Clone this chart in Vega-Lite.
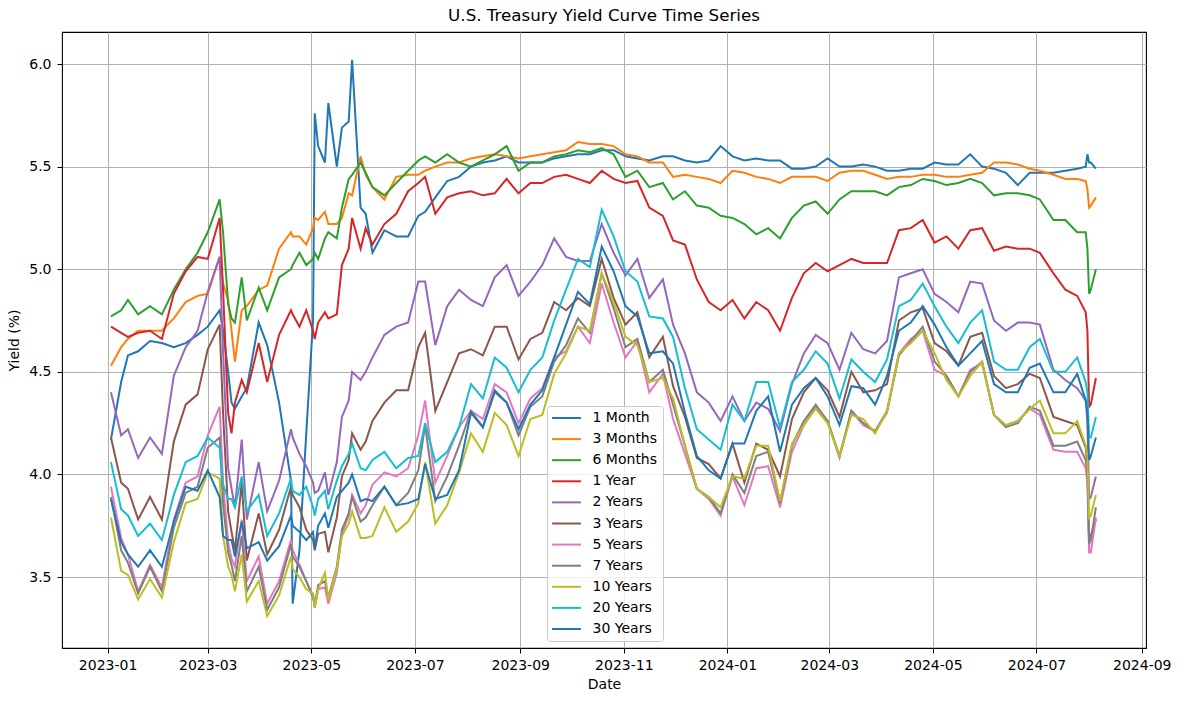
{
"$schema":"https://vega.github.io/schema/vega-lite/v6.json",
"width":1084,"height":616,
"autosize":{"type":"none"},
"padding":{"left":62,"top":32,"right":33,"bottom":53},
"background":"white",
"title":{"text":"U.S. Treasury Yield Curve Time Series","font":"DejaVu Sans","fontSize":16.7,"fontWeight":"normal","color":"#000000","offset":7},
"config":{"font":"DejaVu Sans","view":{"stroke":"#000000","strokeWidth":1.1},
"axis":{"domain":false,"grid":true,"gridColor":"#b0b0b0","gridWidth":1,"tickColor":"#000000","tickSize":5,"tickWidth":1,"labelFont":"DejaVu Sans","labelFontSize":14,"labelColor":"#000000","titleFont":"DejaVu Sans","titleFontSize":14,"titleFontWeight":"normal","titleColor":"#000000","labelOverlap":false}},
"data":{"values":[
{"date":"2023-01-03","1 Month":4.17,"3 Months":4.53,"6 Months":4.77,"1 Year":4.72,"2 Years":4.40,"3 Years":4.18,"5 Years":3.94,"7 Years":3.89,"10 Years":3.79,"20 Years":4.06,"30 Years":3.88},
{"date":"2023-01-09","1 Month":4.45,"3 Months":4.62,"6 Months":4.80,"1 Year":4.69,"2 Years":4.19,"3 Years":3.96,"5 Years":3.69,"7 Years":3.63,"10 Years":3.53,"20 Years":3.83,"30 Years":3.67},
{"date":"2023-01-13","1 Month":4.58,"3 Months":4.66,"6 Months":4.85,"1 Year":4.67,"2 Years":4.22,"3 Years":3.93,"5 Years":3.61,"7 Years":3.57,"10 Years":3.51,"20 Years":3.80,"30 Years":3.61},
{"date":"2023-01-19","1 Month":4.60,"3 Months":4.70,"6 Months":4.78,"1 Year":4.69,"2 Years":4.08,"3 Years":3.78,"5 Years":3.43,"7 Years":3.42,"10 Years":3.39,"20 Years":3.70,"30 Years":3.55},
{"date":"2023-01-26","1 Month":4.65,"3 Months":4.70,"6 Months":4.82,"1 Year":4.70,"2 Years":4.18,"3 Years":3.89,"5 Years":3.56,"7 Years":3.55,"10 Years":3.49,"20 Years":3.76,"30 Years":3.63},
{"date":"2023-02-02","1 Month":4.64,"3 Months":4.70,"6 Months":4.78,"1 Year":4.66,"2 Years":4.10,"3 Years":3.78,"5 Years":3.45,"7 Years":3.43,"10 Years":3.40,"20 Years":3.68,"30 Years":3.55},
{"date":"2023-02-09","1 Month":4.62,"3 Months":4.76,"6 Months":4.90,"1 Year":4.88,"2 Years":4.48,"3 Years":4.16,"5 Years":3.78,"7 Years":3.74,"10 Years":3.67,"20 Years":3.90,"30 Years":3.77},
{"date":"2023-02-16","1 Month":4.64,"3 Months":4.84,"6 Months":5.00,"1 Year":4.99,"2 Years":4.62,"3 Years":4.34,"5 Years":3.96,"7 Years":3.91,"10 Years":3.86,"20 Years":4.06,"30 Years":3.94},
{"date":"2023-02-23","1 Month":4.68,"3 Months":4.87,"6 Months":5.08,"1 Year":5.06,"2 Years":4.70,"3 Years":4.39,"5 Years":3.99,"7 Years":3.94,"10 Years":3.88,"20 Years":4.09,"30 Years":3.92},
{"date":"2023-03-01","1 Month":4.72,"3 Months":4.88,"6 Months":5.18,"1 Year":5.05,"2 Years":4.89,"3 Years":4.61,"5 Years":4.19,"7 Years":4.13,"10 Years":4.01,"20 Years":4.18,"30 Years":4.02},
{"date":"2023-03-08","1 Month":4.80,"3 Months":5.06,"6 Months":5.34,"1 Year":5.25,"2 Years":5.06,"3 Years":4.73,"5 Years":4.33,"7 Years":4.18,"10 Years":3.98,"20 Years":4.13,"30 Years":3.89},
{"date":"2023-03-10","1 Month":4.70,"3 Months":4.93,"6 Months":5.18,"1 Year":4.90,"2 Years":4.60,"3 Years":4.30,"5 Years":3.96,"7 Years":3.86,"10 Years":3.70,"20 Years":3.95,"30 Years":3.70},
{"date":"2023-03-13","1 Month":4.50,"3 Months":4.85,"6 Months":4.83,"1 Year":4.30,"2 Years":4.03,"3 Years":3.82,"5 Years":3.67,"7 Years":3.62,"10 Years":3.55,"20 Years":3.88,"30 Years":3.68},
{"date":"2023-03-15","1 Month":4.35,"3 Months":4.70,"6 Months":4.76,"1 Year":4.20,"2 Years":3.93,"3 Years":3.72,"5 Years":3.59,"7 Years":3.56,"10 Years":3.51,"20 Years":3.88,"30 Years":3.68},
{"date":"2023-03-17","1 Month":4.32,"3 Months":4.55,"6 Months":4.74,"1 Year":4.35,"2 Years":3.84,"3 Years":3.63,"5 Years":3.55,"7 Years":3.48,"10 Years":3.43,"20 Years":3.84,"30 Years":3.60},
{"date":"2023-03-21","1 Month":4.38,"3 Months":4.80,"6 Months":4.96,"1 Year":4.46,"2 Years":4.17,"3 Years":3.96,"5 Years":3.78,"7 Years":3.70,"10 Years":3.61,"20 Years":3.99,"30 Years":3.77},
{"date":"2023-03-24","1 Month":4.42,"3 Months":4.82,"6 Months":4.75,"1 Year":4.40,"2 Years":3.78,"3 Years":3.58,"5 Years":3.48,"7 Years":3.43,"10 Years":3.38,"20 Years":3.82,"30 Years":3.64},
{"date":"2023-03-31","1 Month":4.74,"3 Months":4.90,"6 Months":4.91,"1 Year":4.64,"2 Years":4.06,"3 Years":3.81,"5 Years":3.60,"7 Years":3.55,"10 Years":3.48,"20 Years":3.90,"30 Years":3.67},
{"date":"2023-04-05","1 Month":4.63,"3 Months":4.92,"6 Months":4.80,"1 Year":4.45,"2 Years":3.82,"3 Years":3.61,"5 Years":3.37,"7 Years":3.34,"10 Years":3.31,"20 Years":3.70,"30 Years":3.58},
{"date":"2023-04-12","1 Month":4.35,"3 Months":5.10,"6 Months":4.96,"1 Year":4.68,"2 Years":3.97,"3 Years":3.73,"5 Years":3.48,"7 Years":3.45,"10 Years":3.41,"20 Years":3.81,"30 Years":3.65},
{"date":"2023-04-19","1 Month":3.97,"3 Months":5.18,"6 Months":5.00,"1 Year":4.80,"2 Years":4.22,"3 Years":3.94,"5 Years":3.68,"7 Years":3.66,"10 Years":3.60,"20 Years":3.98,"30 Years":3.80},
{"date":"2023-04-20","1 Month":3.37,"3 Months":5.16,"6 Months":5.02,"1 Year":4.78,"2 Years":4.18,"3 Years":3.90,"5 Years":3.63,"7 Years":3.60,"10 Years":3.54,"20 Years":3.92,"30 Years":3.75},
{"date":"2023-04-24","1 Month":3.63,"3 Months":5.16,"6 Months":5.08,"1 Year":4.72,"2 Years":4.10,"3 Years":3.84,"5 Years":3.56,"7 Years":3.55,"10 Years":3.50,"20 Years":3.90,"30 Years":3.72},
{"date":"2023-04-28","1 Month":4.20,"3 Months":5.12,"6 Months":5.02,"1 Year":4.80,"2 Years":4.04,"3 Years":3.73,"5 Years":3.48,"7 Years":3.48,"10 Years":3.44,"20 Years":3.94,"30 Years":3.68},
{"date":"2023-05-02","1 Month":4.75,"3 Months":5.20,"6 Months":5.05,"1 Year":4.70,"2 Years":3.96,"3 Years":3.68,"5 Years":3.41,"7 Years":3.40,"10 Years":3.42,"20 Years":3.84,"30 Years":3.72},
{"date":"2023-05-03","1 Month":5.76,"3 Months":5.25,"6 Months":5.08,"1 Year":4.66,"2 Years":3.91,"3 Years":3.63,"5 Years":3.35,"7 Years":3.36,"10 Years":3.35,"20 Years":3.80,"30 Years":3.64},
{"date":"2023-05-05","1 Month":5.60,"3 Months":5.24,"6 Months":5.05,"1 Year":4.74,"2 Years":3.92,"3 Years":3.71,"5 Years":3.44,"7 Years":3.46,"10 Years":3.44,"20 Years":3.88,"30 Years":3.75},
{"date":"2023-05-09","1 Month":5.52,"3 Months":5.28,"6 Months":5.15,"1 Year":4.79,"2 Years":4.01,"3 Years":3.72,"5 Years":3.45,"7 Years":3.48,"10 Years":3.52,"20 Years":3.92,"30 Years":3.81},
{"date":"2023-05-11","1 Month":5.81,"3 Months":5.22,"6 Months":5.18,"1 Year":4.76,"2 Years":3.90,"3 Years":3.62,"5 Years":3.37,"7 Years":3.40,"10 Years":3.39,"20 Years":3.83,"30 Years":3.74},
{"date":"2023-05-16","1 Month":5.50,"3 Months":5.22,"6 Months":5.15,"1 Year":4.78,"2 Years":4.06,"3 Years":3.79,"5 Years":3.52,"7 Years":3.55,"10 Years":3.54,"20 Years":3.97,"30 Years":3.89},
{"date":"2023-05-19","1 Month":5.69,"3 Months":5.25,"6 Months":5.30,"1 Year":5.02,"2 Years":4.28,"3 Years":3.99,"5 Years":3.71,"7 Years":3.73,"10 Years":3.70,"20 Years":4.04,"30 Years":3.92},
{"date":"2023-05-23","1 Month":5.72,"3 Months":5.37,"6 Months":5.44,"1 Year":5.10,"2 Years":4.36,"3 Years":4.07,"5 Years":3.80,"7 Years":3.81,"10 Years":3.76,"20 Years":4.10,"30 Years":3.96},
{"date":"2023-05-25","1 Month":6.02,"3 Months":5.36,"6 Months":5.46,"1 Year":5.25,"2 Years":4.50,"3 Years":4.20,"5 Years":3.90,"7 Years":3.89,"10 Years":3.82,"20 Years":4.15,"30 Years":4.00},
{"date":"2023-05-30","1 Month":5.30,"3 Months":5.55,"6 Months":5.52,"1 Year":5.10,"2 Years":4.46,"3 Years":4.12,"5 Years":3.81,"7 Years":3.77,"10 Years":3.69,"20 Years":4.03,"30 Years":3.87},
{"date":"2023-06-02","1 Month":5.27,"3 Months":5.46,"6 Months":5.47,"1 Year":5.20,"2 Years":4.50,"3 Years":4.16,"5 Years":3.85,"7 Years":3.79,"10 Years":3.69,"20 Years":4.02,"30 Years":3.88},
{"date":"2023-06-06","1 Month":5.08,"3 Months":5.40,"6 Months":5.40,"1 Year":5.12,"2 Years":4.57,"3 Years":4.26,"5 Years":3.95,"7 Years":3.85,"10 Years":3.70,"20 Years":4.07,"30 Years":3.87},
{"date":"2023-06-13","1 Month":5.19,"3 Months":5.34,"6 Months":5.36,"1 Year":5.22,"2 Years":4.68,"3 Years":4.35,"5 Years":4.01,"7 Years":3.94,"10 Years":3.84,"20 Years":4.11,"30 Years":3.94},
{"date":"2023-06-20","1 Month":5.16,"3 Months":5.45,"6 Months":5.42,"1 Year":5.27,"2 Years":4.72,"3 Years":4.41,"5 Years":3.99,"7 Years":3.85,"10 Years":3.72,"20 Years":4.03,"30 Years":3.85},
{"date":"2023-06-27","1 Month":5.16,"3 Months":5.46,"6 Months":5.48,"1 Year":5.38,"2 Years":4.74,"3 Years":4.41,"5 Years":4.03,"7 Years":3.91,"10 Years":3.77,"20 Years":4.08,"30 Years":3.86},
{"date":"2023-07-03","1 Month":5.26,"3 Months":5.46,"6 Months":5.53,"1 Year":5.42,"2 Years":4.94,"3 Years":4.62,"5 Years":4.19,"7 Years":4.02,"10 Years":3.86,"20 Years":4.09,"30 Years":3.88},
{"date":"2023-07-07","1 Month":5.28,"3 Months":5.48,"6 Months":5.55,"1 Year":5.45,"2 Years":4.94,"3 Years":4.69,"5 Years":4.36,"7 Years":4.24,"10 Years":4.06,"20 Years":4.25,"30 Years":4.05},
{"date":"2023-07-13","1 Month":5.35,"3 Months":5.50,"6 Months":5.52,"1 Year":5.27,"2 Years":4.63,"3 Years":4.31,"5 Years":3.96,"7 Years":3.87,"10 Years":3.76,"20 Years":4.06,"30 Years":3.88},
{"date":"2023-07-20","1 Month":5.43,"3 Months":5.52,"6 Months":5.56,"1 Year":5.35,"2 Years":4.82,"3 Years":4.45,"5 Years":4.09,"7 Years":3.99,"10 Years":3.85,"20 Years":4.11,"30 Years":3.90},
{"date":"2023-07-27","1 Month":5.45,"3 Months":5.52,"6 Months":5.52,"1 Year":5.37,"2 Years":4.90,"3 Years":4.59,"5 Years":4.23,"7 Years":4.14,"10 Years":4.01,"20 Years":4.23,"30 Years":4.02},
{"date":"2023-08-03","1 Month":5.50,"3 Months":5.54,"6 Months":5.50,"1 Year":5.38,"2 Years":4.85,"3 Years":4.61,"5 Years":4.31,"7 Years":4.31,"10 Years":4.20,"20 Years":4.44,"30 Years":4.30},
{"date":"2023-08-10","1 Month":5.52,"3 Months":5.55,"6 Months":5.53,"1 Year":5.36,"2 Years":4.82,"3 Years":4.58,"5 Years":4.27,"7 Years":4.23,"10 Years":4.11,"20 Years":4.37,"30 Years":4.23},
{"date":"2023-08-17","1 Month":5.53,"3 Months":5.56,"6 Months":5.56,"1 Year":5.37,"2 Years":4.96,"3 Years":4.72,"5 Years":4.44,"7 Years":4.40,"10 Years":4.30,"20 Years":4.57,"30 Years":4.41},
{"date":"2023-08-24","1 Month":5.55,"3 Months":5.55,"6 Months":5.60,"1 Year":5.44,"2 Years":5.02,"3 Years":4.72,"5 Years":4.40,"7 Years":4.35,"10 Years":4.24,"20 Years":4.52,"30 Years":4.35},
{"date":"2023-08-31","1 Month":5.52,"3 Months":5.54,"6 Months":5.48,"1 Year":5.37,"2 Years":4.87,"3 Years":4.56,"5 Years":4.25,"7 Years":4.19,"10 Years":4.09,"20 Years":4.40,"30 Years":4.22},
{"date":"2023-09-07","1 Month":5.52,"3 Months":5.55,"6 Months":5.52,"1 Year":5.42,"2 Years":4.94,"3 Years":4.66,"5 Years":4.37,"7 Years":4.33,"10 Years":4.27,"20 Years":4.51,"30 Years":4.34},
{"date":"2023-09-14","1 Month":5.52,"3 Months":5.56,"6 Months":5.52,"1 Year":5.42,"2 Years":5.02,"3 Years":4.69,"5 Years":4.42,"7 Years":4.38,"10 Years":4.29,"20 Years":4.57,"30 Years":4.41},
{"date":"2023-09-21","1 Month":5.54,"3 Months":5.57,"6 Months":5.55,"1 Year":5.45,"2 Years":5.15,"3 Years":4.84,"5 Years":4.57,"7 Years":4.55,"10 Years":4.49,"20 Years":4.75,"30 Years":4.57},
{"date":"2023-09-28","1 Month":5.55,"3 Months":5.58,"6 Months":5.56,"1 Year":5.46,"2 Years":5.06,"3 Years":4.80,"5 Years":4.60,"7 Years":4.63,"10 Years":4.59,"20 Years":4.90,"30 Years":4.73},
{"date":"2023-10-05","1 Month":5.56,"3 Months":5.62,"6 Months":5.58,"1 Year":5.44,"2 Years":5.04,"3 Years":4.86,"5 Years":4.72,"7 Years":4.76,"10 Years":4.72,"20 Years":5.05,"30 Years":4.89},
{"date":"2023-10-12","1 Month":5.56,"3 Months":5.61,"6 Months":5.57,"1 Year":5.42,"2 Years":5.04,"3 Years":4.82,"5 Years":4.64,"7 Years":4.69,"10 Years":4.70,"20 Years":5.01,"30 Years":4.83},
{"date":"2023-10-19","1 Month":5.58,"3 Months":5.61,"6 Months":5.59,"1 Year":5.48,"2 Years":5.22,"3 Years":5.05,"5 Years":4.93,"7 Years":4.98,"10 Years":4.98,"20 Years":5.29,"30 Years":5.11},
{"date":"2023-10-26","1 Month":5.58,"3 Months":5.60,"6 Months":5.56,"1 Year":5.44,"2 Years":5.08,"3 Years":4.86,"5 Years":4.74,"7 Years":4.81,"10 Years":4.84,"20 Years":5.16,"30 Years":4.99},
{"date":"2023-11-02","1 Month":5.55,"3 Months":5.56,"6 Months":5.45,"1 Year":5.42,"2 Years":4.97,"3 Years":4.73,"5 Years":4.57,"7 Years":4.62,"10 Years":4.67,"20 Years":4.99,"30 Years":4.82},
{"date":"2023-11-09","1 Month":5.54,"3 Months":5.55,"6 Months":5.48,"1 Year":5.43,"2 Years":5.05,"3 Years":4.79,"5 Years":4.65,"7 Years":4.66,"10 Years":4.63,"20 Years":4.94,"30 Years":4.77},
{"date":"2023-11-16","1 Month":5.53,"3 Months":5.52,"6 Months":5.40,"1 Year":5.30,"2 Years":4.86,"3 Years":4.57,"5 Years":4.40,"7 Years":4.45,"10 Years":4.45,"20 Years":4.77,"30 Years":4.59},
{"date":"2023-11-24","1 Month":5.55,"3 Months":5.52,"6 Months":5.42,"1 Year":5.26,"2 Years":4.95,"3 Years":4.67,"5 Years":4.49,"7 Years":4.51,"10 Years":4.47,"20 Years":4.76,"30 Years":4.60},
{"date":"2023-11-30","1 Month":5.55,"3 Months":5.45,"6 Months":5.34,"1 Year":5.14,"2 Years":4.73,"3 Years":4.43,"5 Years":4.27,"7 Years":4.34,"10 Years":4.37,"20 Years":4.67,"30 Years":4.54},
{"date":"2023-12-07","1 Month":5.53,"3 Months":5.46,"6 Months":5.38,"1 Year":5.12,"2 Years":4.59,"3 Years":4.28,"5 Years":4.10,"7 Years":4.14,"10 Years":4.14,"20 Years":4.42,"30 Years":4.30},
{"date":"2023-12-14","1 Month":5.52,"3 Months":5.45,"6 Months":5.31,"1 Year":4.95,"2 Years":4.40,"3 Years":4.08,"5 Years":3.93,"7 Years":3.93,"10 Years":3.93,"20 Years":4.22,"30 Years":4.09},
{"date":"2023-12-21","1 Month":5.53,"3 Months":5.44,"6 Months":5.30,"1 Year":4.84,"2 Years":4.35,"3 Years":4.05,"5 Years":3.88,"7 Years":3.89,"10 Years":3.89,"20 Years":4.17,"30 Years":4.02},
{"date":"2023-12-28","1 Month":5.60,"3 Months":5.42,"6 Months":5.26,"1 Year":4.80,"2 Years":4.26,"3 Years":3.98,"5 Years":3.80,"7 Years":3.81,"10 Years":3.84,"20 Years":4.12,"30 Years":3.98},
{"date":"2024-01-04","1 Month":5.55,"3 Months":5.48,"6 Months":5.25,"1 Year":4.85,"2 Years":4.38,"3 Years":4.15,"5 Years":3.99,"7 Years":4.00,"10 Years":3.99,"20 Years":4.34,"30 Years":4.15},
{"date":"2024-01-11","1 Month":5.53,"3 Months":5.47,"6 Months":5.22,"1 Year":4.76,"2 Years":4.26,"3 Years":3.96,"5 Years":3.85,"7 Years":3.91,"10 Years":3.98,"20 Years":4.26,"30 Years":4.15},
{"date":"2024-01-18","1 Month":5.54,"3 Months":5.45,"6 Months":5.17,"1 Year":4.84,"2 Years":4.35,"3 Years":4.15,"5 Years":4.03,"7 Years":4.09,"10 Years":4.14,"20 Years":4.45,"30 Years":4.31},
{"date":"2024-01-25","1 Month":5.53,"3 Months":5.44,"6 Months":5.20,"1 Year":4.80,"2 Years":4.32,"3 Years":4.12,"5 Years":4.04,"7 Years":4.11,"10 Years":4.14,"20 Years":4.45,"30 Years":4.38},
{"date":"2024-02-01","1 Month":5.53,"3 Months":5.42,"6 Months":5.15,"1 Year":4.70,"2 Years":4.21,"3 Years":3.99,"5 Years":3.84,"7 Years":3.86,"10 Years":3.87,"20 Years":4.23,"30 Years":4.11},
{"date":"2024-02-08","1 Month":5.49,"3 Months":5.45,"6 Months":5.25,"1 Year":4.86,"2 Years":4.44,"3 Years":4.27,"5 Years":4.11,"7 Years":4.14,"10 Years":4.15,"20 Years":4.45,"30 Years":4.34},
{"date":"2024-02-15","1 Month":5.49,"3 Months":5.45,"6 Months":5.31,"1 Year":4.98,"2 Years":4.59,"3 Years":4.40,"5 Years":4.24,"7 Years":4.26,"10 Years":4.24,"20 Years":4.51,"30 Years":4.42},
{"date":"2024-02-22","1 Month":5.50,"3 Months":5.45,"6 Months":5.33,"1 Year":5.03,"2 Years":4.68,"3 Years":4.47,"5 Years":4.33,"7 Years":4.34,"10 Years":4.32,"20 Years":4.60,"30 Years":4.47},
{"date":"2024-02-29","1 Month":5.54,"3 Months":5.43,"6 Months":5.27,"1 Year":4.99,"2 Years":4.64,"3 Years":4.41,"5 Years":4.26,"7 Years":4.26,"10 Years":4.25,"20 Years":4.54,"30 Years":4.38},
{"date":"2024-03-07","1 Month":5.50,"3 Months":5.47,"6 Months":5.34,"1 Year":5.02,"2 Years":4.51,"3 Years":4.28,"5 Years":4.08,"7 Years":4.09,"10 Years":4.09,"20 Years":4.37,"30 Years":4.24},
{"date":"2024-03-14","1 Month":5.50,"3 Months":5.48,"6 Months":5.38,"1 Year":5.05,"2 Years":4.69,"3 Years":4.50,"5 Years":4.31,"7 Years":4.31,"10 Years":4.29,"20 Years":4.56,"30 Years":4.43},
{"date":"2024-03-21","1 Month":5.51,"3 Months":5.48,"6 Months":5.38,"1 Year":5.03,"2 Years":4.61,"3 Years":4.40,"5 Years":4.24,"7 Years":4.25,"10 Years":4.27,"20 Years":4.50,"30 Years":4.42},
{"date":"2024-03-28","1 Month":5.50,"3 Months":5.46,"6 Months":5.38,"1 Year":5.03,"2 Years":4.59,"3 Years":4.41,"5 Years":4.21,"7 Years":4.21,"10 Years":4.20,"20 Years":4.45,"30 Years":4.34},
{"date":"2024-04-04","1 Month":5.48,"3 Months":5.44,"6 Months":5.36,"1 Year":5.03,"2 Years":4.65,"3 Years":4.44,"5 Years":4.30,"7 Years":4.31,"10 Years":4.31,"20 Years":4.56,"30 Years":4.48},
{"date":"2024-04-11","1 Month":5.48,"3 Months":5.45,"6 Months":5.40,"1 Year":5.19,"2 Years":4.96,"3 Years":4.75,"5 Years":4.59,"7 Years":4.58,"10 Years":4.59,"20 Years":4.82,"30 Years":4.70},
{"date":"2024-04-18","1 Month":5.49,"3 Months":5.45,"6 Months":5.41,"1 Year":5.20,"2 Years":4.98,"3 Years":4.79,"5 Years":4.66,"7 Years":4.65,"10 Years":4.64,"20 Years":4.85,"30 Years":4.74},
{"date":"2024-04-25","1 Month":5.49,"3 Months":5.46,"6 Months":5.44,"1 Year":5.24,"2 Years":5.00,"3 Years":4.81,"5 Years":4.70,"7 Years":4.72,"10 Years":4.70,"20 Years":4.93,"30 Years":4.82},
{"date":"2024-05-02","1 Month":5.52,"3 Months":5.46,"6 Months":5.43,"1 Year":5.13,"2 Years":4.88,"3 Years":4.64,"5 Years":4.51,"7 Years":4.55,"10 Years":4.59,"20 Years":4.82,"30 Years":4.73},
{"date":"2024-05-09","1 Month":5.51,"3 Months":5.45,"6 Months":5.41,"1 Year":5.16,"2 Years":4.84,"3 Years":4.60,"5 Years":4.48,"7 Years":4.48,"10 Years":4.46,"20 Years":4.72,"30 Years":4.62},
{"date":"2024-05-16","1 Month":5.51,"3 Months":5.45,"6 Months":5.42,"1 Year":5.10,"2 Years":4.79,"3 Years":4.53,"5 Years":4.38,"7 Years":4.38,"10 Years":4.38,"20 Years":4.64,"30 Years":4.53},
{"date":"2024-05-23","1 Month":5.56,"3 Months":5.46,"6 Months":5.44,"1 Year":5.19,"2 Years":4.94,"3 Years":4.67,"5 Years":4.51,"7 Years":4.50,"10 Years":4.48,"20 Years":4.74,"30 Years":4.59},
{"date":"2024-05-30","1 Month":5.50,"3 Months":5.47,"6 Months":5.42,"1 Year":5.20,"2 Years":4.93,"3 Years":4.69,"5 Years":4.54,"7 Years":4.55,"10 Years":4.55,"20 Years":4.80,"30 Years":4.65},
{"date":"2024-06-06","1 Month":5.49,"3 Months":5.52,"6 Months":5.36,"1 Year":5.09,"2 Years":4.75,"3 Years":4.48,"5 Years":4.29,"7 Years":4.29,"10 Years":4.29,"20 Years":4.55,"30 Years":4.44},
{"date":"2024-06-13","1 Month":5.47,"3 Months":5.52,"6 Months":5.37,"1 Year":5.11,"2 Years":4.70,"3 Years":4.42,"5 Years":4.24,"7 Years":4.23,"10 Years":4.24,"20 Years":4.51,"30 Years":4.40},
{"date":"2024-06-20","1 Month":5.41,"3 Months":5.51,"6 Months":5.37,"1 Year":5.10,"2 Years":4.74,"3 Years":4.44,"5 Years":4.26,"7 Years":4.25,"10 Years":4.26,"20 Years":4.51,"30 Years":4.40},
{"date":"2024-06-27","1 Month":5.47,"3 Months":5.49,"6 Months":5.36,"1 Year":5.10,"2 Years":4.74,"3 Years":4.49,"5 Years":4.32,"7 Years":4.33,"10 Years":4.32,"20 Years":4.62,"30 Years":4.52},
{"date":"2024-07-03","1 Month":5.47,"3 Months":5.48,"6 Months":5.34,"1 Year":5.08,"2 Years":4.73,"3 Years":4.47,"5 Years":4.29,"7 Years":4.31,"10 Years":4.36,"20 Years":4.66,"30 Years":4.54},
{"date":"2024-07-11","1 Month":5.47,"3 Months":5.46,"6 Months":5.24,"1 Year":4.98,"2 Years":4.51,"3 Years":4.28,"5 Years":4.12,"7 Years":4.14,"10 Years":4.20,"20 Years":4.50,"30 Years":4.40},
{"date":"2024-07-18","1 Month":5.48,"3 Months":5.44,"6 Months":5.24,"1 Year":4.90,"2 Years":4.46,"3 Years":4.26,"5 Years":4.11,"7 Years":4.14,"10 Years":4.20,"20 Years":4.50,"30 Years":4.40},
{"date":"2024-07-25","1 Month":5.49,"3 Months":5.44,"6 Months":5.18,"1 Year":4.87,"2 Years":4.42,"3 Years":4.24,"5 Years":4.11,"7 Years":4.16,"10 Years":4.26,"20 Years":4.57,"30 Years":4.49},
{"date":"2024-07-30","1 Month":5.50,"3 Months":5.43,"6 Months":5.18,"1 Year":4.79,"2 Years":4.36,"3 Years":4.13,"5 Years":4.03,"7 Years":4.07,"10 Years":4.14,"20 Years":4.45,"30 Years":4.36},
{"date":"2024-07-31","1 Month":5.56,"3 Months":5.39,"6 Months":5.10,"1 Year":4.70,"2 Years":4.26,"3 Years":4.05,"5 Years":3.96,"7 Years":4.01,"10 Years":4.09,"20 Years":4.40,"30 Years":4.30},
{"date":"2024-08-01","1 Month":5.52,"3 Months":5.30,"6 Months":4.88,"1 Year":4.33,"2 Years":3.88,"3 Years":3.67,"5 Years":3.62,"7 Years":3.66,"10 Years":3.79,"20 Years":4.18,"30 Years":4.07},
{"date":"2024-08-02","1 Month":5.52,"3 Months":5.31,"6 Months":4.90,"1 Year":4.34,"2 Years":3.89,"3 Years":3.70,"5 Years":3.62,"7 Years":3.68,"10 Years":3.80,"20 Years":4.18,"30 Years":4.09},
{"date":"2024-08-05","1 Month":5.49,"3 Months":5.35,"6 Months":5.00,"1 Year":4.47,"2 Years":3.99,"3 Years":3.78,"5 Years":3.79,"7 Years":3.84,"10 Years":3.90,"20 Years":4.28,"30 Years":4.18}
]},
"transform":[{"fold":["1 Month","3 Months","6 Months","1 Year","2 Years","3 Years","5 Years","7 Years","10 Years","20 Years","30 Years"],"as":["series","yield"]}],
"mark":{"type":"line","strokeWidth":2,"clip":true},
"encoding":{
"x":{"field":"date","type":"temporal","scale":{"type":"utc","domain":[{"year":2022,"month":12,"date":5,"hours":4,"utc":true},{"year":2024,"month":9,"date":3,"hours":12,"utc":true}]},
"axis":{"title":"Date","format":"%Y-%m","labelPadding":5,"titlePadding":5,"labelFlush":false,
"values":[{"year":2023,"month":1,"date":1,"utc":true},{"year":2023,"month":3,"date":1,"utc":true},{"year":2023,"month":5,"date":1,"utc":true},{"year":2023,"month":7,"date":1,"utc":true},{"year":2023,"month":9,"date":1,"utc":true},{"year":2023,"month":11,"date":1,"utc":true},{"year":2024,"month":1,"date":1,"utc":true},{"year":2024,"month":3,"date":1,"utc":true},{"year":2024,"month":5,"date":1,"utc":true},{"year":2024,"month":7,"date":1,"utc":true},{"year":2024,"month":9,"date":1,"utc":true}]}},
"y":{"field":"yield","type":"quantitative","scale":{"domain":[3.154,6.156],"zero":false,"nice":false},
"axis":{"title":"Yield (%)","values":[3.5,4,4.5,5,5.5,6],"format":".1f","labelPadding":6,"titlePadding":7}},
"color":{"field":"series","type":"nominal",
"scale":{"domain":["1 Month","3 Months","6 Months","1 Year","2 Years","3 Years","5 Years","7 Years","10 Years","20 Years","30 Years"],
"range":["#1f77b4","#ff7f0e","#2ca02c","#d62728","#9467bd","#8c564b","#e377c2","#7f7f7f","#bcbd22","#17becf","#1f77b4"]},
"legend":{"title":null,"orient":"none","legendX":485,"legendY":374,"symbolType":"M-2.4,0H2.4","symbolSize":144,"symbolStrokeWidth":2,"symbolOffset":7.5,"labelOffset":19,"labelFont":"DejaVu Sans","labelFontSize":14,"labelColor":"#000000","rowPadding":7.1,"padding":5,"fillColor":"rgba(255,255,255,0.8)","strokeColor":"#cccccc","cornerRadius":3,"labelLimit":200}}
}
}
